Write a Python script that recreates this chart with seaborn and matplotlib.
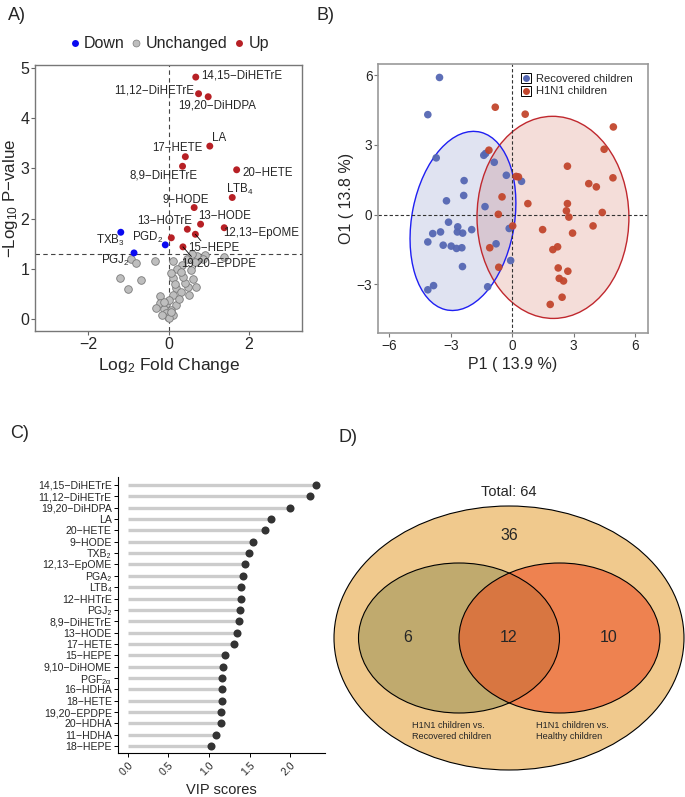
import numpy as np
import pandas as pd
import seaborn as sns
import matplotlib.pyplot as plt
from matplotlib.patches import Ellipse
from matplotlib.lines import Line2D
from matplotlib.legend_handler import HandlerTuple

sns.set_style('white')
plt.rcParams['font.family'] = ['Liberation Sans', 'DejaVu Sans']
plt.rcParams['mathtext.fontset'] = 'custom'
plt.rcParams['mathtext.rm'] = 'Liberation Sans'
plt.rcParams['mathtext.it'] = 'Liberation Sans'
plt.rcParams['mathtext.default'] = 'rm'

# ---- A) volcano data ----
sig_names = ['14,15−DiHETrE', '11,12−DiHETrE', '19,20−DiHDPA', 'LA', '17−HETE', '8,9−DiHETrE',
             '20−HETE', 'LTB$_4$', '9−HODE', '13−HODE', '13−HOTrE', '12,13−EpOME', '15−HEPE',
             '19,20−EPDPE', 'PGD$_2$', '', 'TXB$_3$', 'PGJ$_2$']
sig_fc = [0.68, 0.75, 0.99, 1.03, 0.42, 0.35, 1.70, 1.59, 0.64, 0.80, 0.47, 1.39, 0.67,
          0.36, 0.07, -0.08, -1.19, -0.86]
sig_logp = [4.81, 4.48, 4.42, 3.44, 3.23, 3.04, 2.97, 2.42, 2.22, 1.89, 1.79, 1.82, 1.69,
            1.44, 1.62, 1.48, 1.73, 1.32]
ns_fc = [-0.93, -0.82, -0.33, 0.12, -1.20, -0.68, -1.01, 0.33, 0.46, 0.71, 0.92, 0.65, 0.56,
         0.11, 0.22, 0.19, 0.48, 0.69, 0.40, 0.30, 0.52, 0.11, -0.22, -0.20, -0.06, 0.19,
         -0.32, -0.12, 0.07, -0.07, -0.02, 0.11, 0.02, 0.37, 0.05, 1.39, 0.00, 0.05, -0.10,
         0.25, 0.60, 0.15, -0.15, 0.30, 0.85, 0.58]
ns_logp = [1.19, 1.11, 1.16, 1.16, 0.83, 0.78, 0.60, 1.08, 1.20, 1.26, 1.28, 1.14, 0.98,
           0.83, 1.01, 0.63, 0.64, 0.64, 0.73, 0.55, 0.48, 0.48, 0.46, 0.32, 0.30, 0.28,
           0.22, 0.20, 0.18, 0.12, 0.04, 0.09, 0.38, 0.85, 0.93, 1.23, 0.02, 0.15, 0.35,
           0.40, 0.80, 0.70, 0.08, 0.95, 1.20, 1.29]

# where the repelled labels sit (and the end of their leader segment, if any)
label_pos = {
    '14,15−DiHETrE': (1.83, 4.85), '11,12−DiHETrE': (-0.35, 4.54), '19,20−DiHDPA': (1.21, 4.24),
    'LA': (1.26, 3.60), '17−HETE': (0.21, 3.40), '8,9−DiHETrE': (-0.12, 2.85),
    '20−HETE': (2.48, 2.90), 'LTB$_4$': (1.78, 2.57), '9−HODE': (0.42, 2.38),
    '13−HODE': (1.41, 2.06), '13−HOTrE': (-0.10, 1.95), '12,13−EpOME': (2.30, 1.71),
    '15−HEPE': (1.14, 1.42), '19,20−EPDPE': (1.24, 1.11), 'PGD$_2$': (-0.51, 1.62),
    'TXB$_3$': (-1.44, 1.56), 'PGJ$_2$': (-1.33, 1.18)}
label_seg = {'15−HEPE': (0.81, 1.56), '19,20−EPDPE': (0.57, 1.25)}

# ---- B) score plot data ----
rec_p1 = [-3.55, -4.12, -3.71, -1.39, -1.30, -0.88, -2.35, -2.37, -3.21, -0.29, 0.45, -1.33,
          -3.11, -2.66, -2.68, -2.42, -3.50, -3.88, -1.98, -3.37, -2.98, -2.72, -2.46, -4.12,
          -2.43, -0.79, -0.15, -0.08, -3.84, -4.12, -1.20]
rec_o1 = [5.90, 4.30, 2.44, 2.55, 2.63, 2.25, 1.46, 0.82, 0.59, 1.69, 1.43, 0.34, -0.33,
          -0.53, -0.75, -0.80, -0.75, -0.82, -0.65, -1.32, -1.36, -1.46, -1.43, -1.18, -2.24,
          -1.26, -0.60, -1.98, -3.06, -3.24, -3.11]
h1n1_p1 = [-0.83, 0.63, 4.93, -1.14, 4.48, 2.69, 0.19, 3.73, 4.10, 4.91, -0.50, 0.76, 2.69,
           2.64, 4.39, -0.68, 2.76, 0.02, 3.94, 1.48, 2.94, -1.10, 2.21, 1.98, -0.66, 2.24,
           2.71, 2.29, 2.50, 2.43, 1.85, 0.30]
h1n1_o1 = [4.62, 4.32, 3.77, 2.77, 2.81, 2.08, 1.64, 1.33, 1.19, 1.58, 0.76, 0.47, 0.47,
           0.16, 0.09, 0.01, -0.11, -0.49, -0.49, -0.65, -0.80, -1.43, -1.39, -1.51, -2.27,
           -2.30, -2.44, -2.75, -2.86, -3.56, -3.87, 1.62]

# ---- C) VIP data ----
vip_names = ['14,15−DiHETrE', '11,12−DiHETrE', '19,20−DiHDPA', 'LA', '20−HETE', '9−HODE',
             'TXB₂', '12,13−EpOME', 'PGA₂', 'LTB₄', '12−HHTrE', 'PGJ₂',
             '8,9−DiHETrE', '13−HODE', '17−HETE', '15−HEPE', '9,10−DiHOME', 'PGF$_{2\\alpha}$',
             '16−HDHA', '18−HETE', '19,20−EPDPE', '20−HDHA', '11−HDHA', '18−HEPE']
vip_scores = [2.32, 2.25, 2.00, 1.76, 1.69, 1.54, 1.49, 1.45, 1.42, 1.40, 1.39, 1.38,
              1.37, 1.35, 1.31, 1.20, 1.17, 1.16, 1.155, 1.155, 1.15, 1.15, 1.09, 1.02]

# ---- D) Venn counts ----
venn_total = 64
venn_neither = 36
venn_only_recovered = 6
venn_both = 12
venn_only_healthy = 10
venn_set_labels = ['H1N1 children vs.\nRecovered children', 'H1N1 children vs.\nHealthy children']

W, H = 685, 797
fig = plt.figure(figsize=(W / 100, H / 100), dpi=100)


def px_axes(x0, y0, x1, y1):
    return fig.add_axes([x0 / W, 1 - y1 / H, (x1 - x0) / W, (y1 - y0) / H])


def cov_trob(X, nu=5, n_iter=200):
    # robust (multivariate t) location/scatter, same idea as MASS::cov.trob
    n, p = X.shape
    wt = np.ones(n)
    for _ in range(n_iter):
        loc = (wt[:, None] * X).sum(0) / wt.sum()
        Xc = X - loc
        S = (wt[:, None] * Xc).T @ Xc / n
        d = np.einsum('ij,jk,ik->i', Xc, np.linalg.inv(S), Xc)
        wt = (nu + p) / (nu + d)
    return loc, S


# ================= A =================
axA = px_axes(35, 65, 302, 331)
cut = -np.log10(0.05)
df = pd.DataFrame({'fc': sig_fc + ns_fc, 'logp': sig_logp + ns_logp,
                   'name': sig_names + [''] * len(ns_fc)})
df['group'] = np.where(df.logp > cut, np.where(df.fc > 0, 'Up', 'Down'), 'Unchanged')
colsA = {'Down': '#0A0AF0', 'Unchanged': '#BEBEBE', 'Up': '#B72025'}
for g in ['Unchanged', 'Down', 'Up']:
    sub = df[df.group == g]
    ec = '#7A7A7A' if g == 'Unchanged' else 'none'
    sz = 30 if g == 'Unchanged' else 25
    sns.scatterplot(data=sub, x='fc', y='logp', color=colsA[g], edgecolor=ec, linewidth=0.6,
                    s=sz, ax=axA, zorder=3, legend=False)
axA.axhline(cut, color='#444444', lw=0.8, dashes=(4, 3), zorder=2)
axA.axvline(0, color='#444444', lw=0.8, dashes=(4, 3), zorder=2)
for _, r in df[df.name != ''].iterrows():
    lx, ly = label_pos[r['name']]
    axA.text(lx, ly, r['name'], ha='center', va='center', fontsize=8.3, zorder=4)
    if r['name'] in label_seg:
        sx, sy = label_seg[r['name']]
        axA.plot([r.fc, sx], [r.logp, sy], color='black', lw=0.6, zorder=4)
axA.set_xlim(-3.33, 3.33)
axA.set_ylim(-0.23, 5.05)
axA.set_xticks([-2, 0, 2])
axA.set_yticks([0, 1, 2, 3, 4, 5])
axA.set_xticklabels(['−2', '0', '2'])
axA.set_xlabel('Log$_2$ Fold Change', fontsize=12.5, labelpad=3)
axA.set_ylabel('−Log$_{10}$ P−value', fontsize=12.2, labelpad=0.5)
axA.tick_params(labelsize=11.5, length=3, width=0.8, color='#666666', pad=1,
                bottom=True, left=True)
for s in axA.spines.values():
    s.set_color('#777777')
    s.set_linewidth(1.0)
hA = [Line2D([], [], marker='o', ls='', ms=5, mfc=colsA['Down'], mec='none'),
      Line2D([], [], marker='o', ls='', ms=5, mfc=colsA['Unchanged'], mec='#7A7A7A', mew=0.5),
      Line2D([], [], marker='o', ls='', ms=5, mfc=colsA['Up'], mec='none')]
axA.legend(hA, ['Down', 'Unchanged', 'Up'], loc='center', bbox_to_anchor=(0.5, 1.08),
           ncol=3, frameon=False, fontsize=11.5, handlelength=0.8, handletextpad=0.2,
           columnspacing=0.3, borderaxespad=0)

# ================= B =================
axB = px_axes(378, 64, 648, 333)
colB = {'Recovered children': '#5567B3', 'H1N1 children': '#C2462D'}
edgeB = {'Recovered children': '#1F1FF2', 'H1N1 children': '#C0282E'}
dfB = pd.DataFrame({'P1': rec_p1 + h1n1_p1, 'O1': rec_o1 + h1n1_o1,
                    'Group': ['Recovered children'] * len(rec_p1) + ['H1N1 children'] * len(h1n1_p1)})
level = 0.90
for g, sub in dfB.groupby('Group'):
    X = sub[['P1', 'O1']].values
    n = len(X)
    loc, S = cov_trob(X)
    # F(2, n-1) quantile in closed form
    fq = (n - 1) / 2 * ((1 - level) ** (-2 / (n - 1)) - 1)
    r = np.sqrt(2 * fq)
    vals, vecs = np.linalg.eigh(S)
    ang = np.degrees(np.arctan2(vecs[1, 1], vecs[0, 1]))
    w, h = 2 * r * np.sqrt(vals[1]), 2 * r * np.sqrt(vals[0])
    axB.add_patch(Ellipse(loc, w, h, angle=ang, facecolor=colB[g],
                          alpha=0.18, edgecolor='none', zorder=1))
    axB.add_patch(Ellipse(loc, w, h, angle=ang, fill=False,
                          edgecolor=edgeB[g], lw=1.0, zorder=1.5))
sns.scatterplot(data=dfB, x='P1', y='O1', hue='Group', palette=colB, s=30, edgecolor='none',
                alpha=0.95, ax=axB, zorder=3, legend=False)
axB.axhline(0, color='#333333', lw=0.8, dashes=(3, 2), zorder=2)
axB.axvline(0, color='#333333', lw=0.8, dashes=(3, 2), zorder=2)
axB.set_xlim(-6.55, 6.62)
axB.set_ylim(-5.1, 6.48)
axB.set_xticks([-6, -3, 0, 3, 6])
axB.set_yticks([-3, 0, 3, 6])
axB.set_xticklabels(['−6', '−3', '0', '3', '6'])
axB.set_yticklabels(['−3', '0', '3', '6'])
axB.set_xlabel('P1 ( 13.9 %)', fontsize=11.5, labelpad=3)
axB.set_ylabel('O1 ( 13.8 %)', fontsize=11.5, labelpad=2)
axB.tick_params(labelsize=9.8, length=3, width=0.8, color='#777777', pad=1,
                bottom=True, left=True)
for s in axB.spines.values():
    s.set_color('#999999')
    s.set_linewidth(1.2)
hB = [(Line2D([], [], marker='s', ls='', ms=7.5, mfc='white', mec='black', mew=0.7),
       Line2D([], [], marker='o', ls='', ms=5, mfc=colB[g], mec='none')) for g in colB]
axB.legend(hB, list(colB), handler_map={tuple: HandlerTuple(ndivide=1, pad=0)},
           loc='upper left', bbox_to_anchor=(0.5, 0.993), frameon=False, fontsize=8,
           handlelength=1.0, handletextpad=0.4, labelspacing=0.25, borderaxespad=0.3)

# ================= C =================
axC = px_axes(118, 477, 325, 753)
pos = np.arange(len(vip_names))
axC.hlines(pos, 0, vip_scores, color='#CCCCCC', lw=2.4, zorder=1)
sns.stripplot(x=vip_scores, y=vip_names, orient='h', jitter=False, color='#333333', size=5.8,
              ax=axC, zorder=3)
axC.set_ylim(len(vip_names) - 0.4, -0.7)
axC.set_xlim(-0.12, 2.43)
axC.set_xticks([0, 0.5, 1.0, 1.5, 2.0])
axC.set_xticklabels(['0.0', '0.5', '1.0', '1.5', '2.0'], rotation=45, ha='right',
                    va='top', rotation_mode='anchor')
axC.set_xlabel('VIP scores', fontsize=10.5, labelpad=4)
axC.set_ylabel('')
axC.tick_params(labelsize=7.6, length=3, width=0.7, color='black', pad=2, bottom=True, left=True)
axC.tick_params(axis='y', pad=1.5)
for k in ['top', 'right']:
    axC.spines[k].set_visible(False)
for k in ['left', 'bottom']:
    axC.spines[k].set_color('black')
    axC.spines[k].set_linewidth(0.8)

# ================= D =================
axD = fig.add_axes([330 / W, 0, 355 / W, 460 / H])
axD.set_xlim(330, 685)
axD.set_ylim(797, 337)
axD.axis('off')
cy = 638
outer = Ellipse((509, cy), 350, 264, facecolor='#F0C98D', edgecolor='black', lw=0.8)
left = Ellipse((459, cy), 201, 150, facecolor='#C0AA6E', edgecolor='none')
right = Ellipse((559.5, cy), 201, 150, facecolor='#EE8250', edgecolor='none')
axD.add_patch(outer)
axD.add_patch(left)
axD.add_patch(right)
inter = Ellipse((559.5, cy), 201, 150, facecolor='#D87641', edgecolor='none')
axD.add_patch(inter)
inter.set_clip_path(left)
for c in [459, 559.5]:
    axD.add_patch(Ellipse((c, cy), 201, 150, fill=False, edgecolor='black', lw=0.8))
axD.text(509, 492, f'Total: {venn_total}', ha='center', va='center', fontsize=10.5)
axD.text(509, 535, str(venn_neither), ha='center', va='center', fontsize=11.5)
axD.text(408, cy, str(venn_only_recovered), ha='center', va='center', fontsize=11.5)
axD.text(509, cy, str(venn_both), ha='center', va='center', fontsize=11.5)
axD.text(609, cy, str(venn_only_healthy), ha='center', va='center', fontsize=11.5)
axD.text(412, 731, venn_set_labels[0], ha='left', va='center', fontsize=6.6, linespacing=1.3)
axD.text(536, 731, venn_set_labels[1], ha='left', va='center', fontsize=6.6, linespacing=1.3)

# panel letters
for t, x, y in [('A)', 8, 15), ('B)', 316, 15), ('C)', 10, 433), ('D)', 338, 437)]:
    fig.text(x / W, 1 - y / H, t, fontsize=13, ha='left', va='center')

fig.savefig('out.png', dpi=100, facecolor='white')
